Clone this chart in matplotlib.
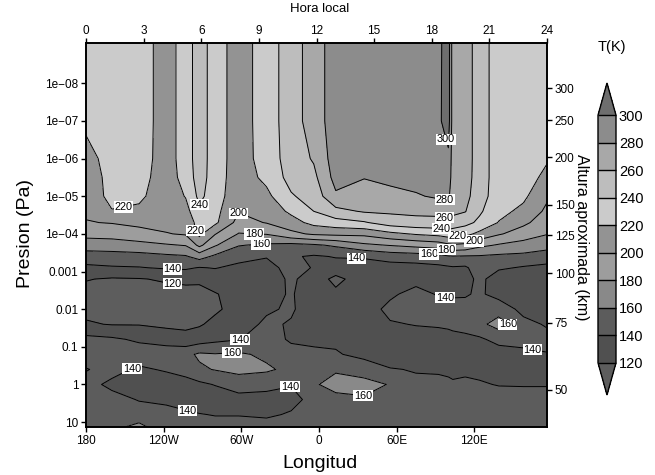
import matplotlib
matplotlib.use("Agg")
import matplotlib.pyplot as plt
from matplotlib.colors import ListedColormap, BoundaryNorm
import numpy as np

plt.rcParams["font.family"] = ["Liberation Sans", "DejaVu Sans"]

# grid: longitude columns and log10(pressure/Pa) rows
lon = [-180, -160, -139, -118, -103, -92.4, -80.2, -62, -40.5, -21.5, -4,
       13, 35, 55, 75, 92.4, 100, 103.5, 113, 124, 139, 158, 176.25]
log_p = [-9.2, -7.0, -6.0, -5.5, -5.0, -4.6, -4.3, -4.0, -3.7, -3.4, -3.1,
         -2.8, -2.4, -2.0, -1.6, -1.2, -0.8, -0.4, 0.0, 0.4, 0.8, 1.2]

# temperature (K) profiles, one list per longitude column (top -> bottom)
temp_by_lon = [
    [232, 225, 212, 210, 207, 203, 199, 186, 170, 150, 136, 121, 114, 115, 122, 146, 150, 139, 146, 150, 148, 147],
    [232, 231, 229, 226, 226, 219, 201, 188, 170, 152, 138, 118, 112, 113, 119, 143, 150, 146, 136, 146, 150, 158],
    [231, 231, 230, 228, 224, 216, 204, 194, 173, 153, 139, 119, 110, 111, 119, 137, 150, 137, 128, 139, 148, 170],
    [210, 210, 210, 209, 208, 206, 206, 199, 178, 156, 142, 122, 114, 110, 116, 131, 152, 142, 130, 133, 152, 150],
    [230, 230, 230, 228, 221, 213, 207, 202, 181, 158, 143, 124, 114, 110, 116, 126, 155, 148, 132, 128, 145, 150],
    [250, 250, 250, 249, 245, 236, 228, 225, 205, 168, 139, 123, 115, 111, 118, 130, 163, 157, 136, 128, 141, 150],
    [230, 230, 230, 230, 229, 226, 224, 201, 182, 156, 141, 128, 119, 117, 125, 135, 161, 161, 141, 128, 139, 150],
    [210, 210, 210, 209, 207, 201, 193, 179, 161, 147, 135, 128, 126, 127, 130, 139, 163, 166, 148, 134, 139, 150],
    [230, 230, 229, 225, 215, 207, 201, 181, 157, 141, 134, 131, 133, 137, 144, 150, 156, 163, 146, 133, 137, 150],
    [250, 250, 249, 247, 238, 224, 212, 195, 154, 142, 146, 143, 142, 143, 138, 137, 148, 155, 141, 134, 142, 150],
    [270, 270, 262, 255, 248, 240, 226, 203, 157, 138, 139, 132, 128, 127, 130, 135, 145, 156, 158, 146, 148, 150],
    [290, 290, 290, 287, 277, 254, 232, 205, 163, 141, 133, 114, 125, 128, 130, 136, 142, 158, 166, 155, 150, 148],
    [290, 290, 289, 281, 268, 262, 238, 205, 176, 141, 136, 132, 128, 129, 133, 137, 134, 152, 166, 158, 150, 148],
    [290, 290, 290, 285, 274, 263, 250, 215, 181, 148, 132, 130, 136, 146, 138, 130, 131, 141, 159, 150, 148, 147],
    [290, 290, 290, 288, 278, 264, 254, 222, 186, 150, 133, 132, 148, 150, 141, 131, 130, 139, 143, 150, 150, 148],
    [295, 296, 295, 293, 283, 265, 254, 226, 190, 154, 135, 130, 138, 148, 142, 133, 130, 138, 144, 150, 150, 148],
    [310, 310, 296, 292, 284, 268, 256, 230, 196, 158, 137, 131, 137, 148, 143, 134, 130, 137, 143, 150, 150, 148],
    [270, 270, 270, 270, 268, 263, 255, 226, 198, 159, 138, 131, 137, 149, 144, 135, 131, 136, 142, 150, 150, 148],
    [270, 270, 270, 269, 266, 261, 246, 226, 196, 158, 137, 131, 138, 147, 146, 136, 131, 137, 143, 150, 150, 148],
    [250, 250, 250, 250, 249, 243, 236, 215, 185, 158, 150, 146, 143, 150, 155, 137, 132, 135, 142, 150, 150, 148],
    [230, 230, 230, 230, 229, 226, 219, 202, 178, 156, 143, 128, 133, 152, 168, 146, 131, 134, 139, 149, 150, 148],
    [230, 230, 230, 229, 224, 215, 204, 191, 172, 155, 138, 130, 130, 134, 146, 148, 134, 133, 139, 146, 150, 148],
    [230, 230, 222, 215, 203, 196, 190, 181, 166, 152, 134, 130, 130, 133, 138, 146, 139, 132, 139, 146, 150, 148],
]

levels = [120, 140, 160, 180, 200, 220, 240, 260, 280, 300]
band_colors = ["#505050", "#5c5c5c", "#898989", "#9d9d9d", "#939393",
               "#cbcbcb", "#bdbdbd", "#a8a8a8", "#8c8c8c"]
under_color = "#5d5d5d"
over_color = "#6e6e6e"

# axis ticks
p_ticks = [-8, -7, -6, -5, -4, -3, -2, -1, 0, 1]
p_ticklabels = ["1e\u221208", "1e\u221207", "1e\u221206", "1e\u221205", "1e\u221204",
                "0.001", "0.01", "0.1", "1", "10"]
lon_ticks = [-180, -120, -60, 0, 60, 120]
lon_ticklabels = ["180", "120W", "60W", "0", "60E", "120E"]
hour_ticks = [0, 3, 6, 9, 12, 15, 18, 21, 24]
alt_km = [300, 250, 200, 150, 125, 100, 75, 50]
alt_log_p = [-7.87, -7.02, -6.03, -4.78, -3.96, -2.95, -1.64, 0.14]

# contour labels: level -> [(lon, log10 p), ...]
label_spots = {
    120: [(-113, -2.73)],
    140: [(-113, -3.08), (-61, -1.17), (-146, -0.55), (-23, -0.05), (-101, 0.62),
          (29, -3.45), (97, -2.2), (164, -0.69)],
    160: [(-45, -3.77), (-67, -0.82), (34, 0.35), (85, -3.48), (162, -1.2)],
    180: [(-50, -4.09), (99, -3.64)],
    200: [(-62, -4.54), (121, -3.68)],
    220: [(-151, -4.68), (-95, -4.09), (107, -4.08)],
    240: [(-95, -4.68), (95, -4.17)],
    260: [(97, -4.44)],
    280: [(97, -4.81)],
    300: [(95, -6.48)],
}

T = np.array(temp_by_lon).T
X, Y = np.meshgrid(lon, log_p)

cmap = ListedColormap(band_colors)
cmap.set_under(under_color)
cmap.set_over(over_color)
norm = BoundaryNorm(levels, cmap.N)

fig = plt.figure(figsize=(6.55, 4.75), dpi=100)
ax = fig.add_axes([86 / 655, 1 - 427 / 475, 461 / 655, 384 / 475])

cf = ax.contourf(X, Y, T, levels=levels, cmap=cmap, norm=norm, extend="both")
ax.contour(X, Y, T, levels=levels, colors="k", linewidths=0.7)

# one invisible contour set per level so each label sticks to its own line
for lev, spots in label_spots.items():
    cl = ax.contour(X, Y, T, levels=[lev], colors="none")
    texts = cl.clabel(manual=spots, inline=False, fmt="%d", fontsize=7.8, colors="k")
    for t in texts:
        t.set_rotation(0)
        t.set_bbox(dict(boxstyle="square,pad=0.06", fc="white", ec="none"))

ax.set_xlim(-180, 176.25)
ax.set_ylim(1.13, -9.07)
ax.set_xticks(lon_ticks)
ax.set_xticklabels(lon_ticklabels)
ax.set_yticks(p_ticks)
ax.set_yticklabels(p_ticklabels)
ax.tick_params(direction="out", length=3.5, width=1, labelsize=8.5, pad=2)
for s in ax.spines.values():
    s.set_linewidth(1.4)

ax_top = ax.twiny()
ax_top.set_xlim(0, 24)
ax_top.set_xticks(hour_ticks)
ax_top.tick_params(direction="out", length=3.5, width=1, labelsize=8.5, pad=1)

ax_right = ax.twinx()
ax_right.set_ylim(1.13, -9.07)
ax_right.set_yticks(alt_log_p)
ax_right.set_yticklabels([str(a) for a in alt_km])
ax_right.tick_params(direction="out", length=3.5, width=1, labelsize=8.5, pad=2)
for a in (ax_top, ax_right):
    for s in a.spines.values():
        s.set_visible(False)

fig.text(26 / 655, 1 - 233 / 475, "Presion (Pa)", rotation=90, ha="center", va="center", fontsize=14)
fig.text(320 / 655, 1 - 463 / 475, "Longitud", ha="center", va="center", fontsize=14)
fig.text(320 / 655, 1 - 9 / 475, "Hora local", ha="center", va="center", fontsize=9.5)
fig.text(582 / 655, 1 - 237 / 475, "Altura aproximada (km)", rotation=270,
         ha="center", va="center", fontsize=11.5)
fig.text(612 / 655, 1 - 47 / 475, "T(K)", ha="center", va="center", fontsize=10.5)

cax = fig.add_axes([598 / 655, 1 - 395 / 475, 18 / 655, 312 / 475])
cb = fig.colorbar(cf, cax=cax, extend="both", extendfrac=0.13, drawedges=True, ticks=levels)
cb.ax.tick_params(length=0, labelsize=10.5, pad=2)
cb.outline.set_linewidth(1.0)
cb.dividers.set_linewidth(1.0)

fig.savefig("out.png", dpi=100)
